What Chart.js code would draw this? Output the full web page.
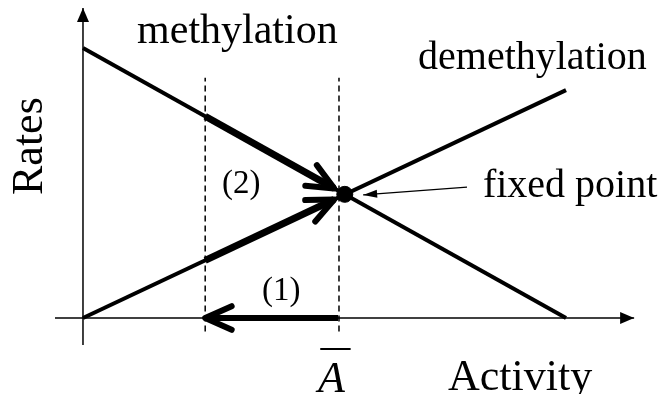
<!DOCTYPE html>
<html>
<head>
<meta charset="utf-8">
<script src="https://cdn.jsdelivr.net/npm/chart.js@4.4.1/dist/chart.umd.min.js"></script>
<style>
  html, body { margin: 0; padding: 0; background: #fff; overflow: hidden; }
</style>
</head>
<body>
<canvas id="tasas" width="659" height="394"></canvas>
<script>
// activity runs 0..1 along the x axis, rates 0..1 up the y axis
const metilacion = [{x: 0, y: 1}, {x: 1, y: 0}];
const desmetilacion = [{x: 0, y: 0}, {x: 1, y: 0.844}];
const puntoFijo = [{x: 0.542, y: 0.458}];
const tramoMetil = [{x: 0.253, y: 0.747}, {x: 0.52, y: 0.48}];
const tramoDesmetil = [{x: 0.253, y: 0.2135}, {x: 0.52, y: 0.439}];
const flechaUno = [{x: 0.528, y: 0}, {x: 0.253, y: 0}];
const guiaIzq = [{x: 0.253, y: -0.05}, {x: 0.253, y: 0.89}];
const guiaDer = [{x: 0.53, y: -0.05}, {x: 0.53, y: 0.89}];
const ejeX = [{x: -0.058, y: 0}, {x: 1.141, y: 0}];
const ejeY = [{x: 0, y: -0.1}, {x: 0, y: 1.148}];
const senal = [{x: 0.795, y: 0.485}, {x: 0.58, y: 0.456}];

const textos = ['methylation', 'demethylation', '(2)', '(1)', 'fixed point', 'Activity', 'A', 'Rates'];
const anclas = [
  {x: 0.112, y: 1.0185}, {x: 0.6936, y: 0.922}, {x: 0.2878, y: 0.463}, {x: 0.3706, y: 0.0667},
  {x: 0.828, y: 0.448}, {x: 0.7557, y: -0.2667}, {x: 0.4865, y: -0.274}, {x: -0.0849, y: 0.4556}
];

function linea(data, ancho, extra) {
  return Object.assign({
    data: data, showLine: true, pointRadius: 0, borderColor: '#000',
    borderWidth: ancho, fill: false, tension: 0, borderCapStyle: 'butt'
  }, extra || {});
}

function puntaAbierta(ctx, p0, p1, largo, ang, ancho) {
  const a = Math.atan2(p1.y - p0.y, p1.x - p0.x);
  ctx.beginPath();
  ctx.moveTo(p1.x - largo * Math.cos(a - ang), p1.y - largo * Math.sin(a - ang));
  ctx.lineTo(p1.x, p1.y);
  ctx.lineTo(p1.x - largo * Math.cos(a + ang), p1.y - largo * Math.sin(a + ang));
  ctx.lineWidth = ancho;
  ctx.lineCap = 'round';
  ctx.lineJoin = 'round';
  ctx.strokeStyle = '#000';
  ctx.stroke();
}

function puntaLlena(ctx, p0, p1, largo, medio) {
  const a = Math.atan2(p1.y - p0.y, p1.x - p0.x);
  const bx = p1.x - largo * Math.cos(a), by = p1.y - largo * Math.sin(a);
  ctx.beginPath();
  ctx.moveTo(p1.x, p1.y);
  ctx.lineTo(bx + medio * Math.sin(a), by - medio * Math.cos(a));
  ctx.lineTo(bx - medio * Math.sin(a), by + medio * Math.cos(a));
  ctx.closePath();
  ctx.fillStyle = '#000';
  ctx.fill();
}

const extremos = (chart, i) => {
  const pts = chart.getDatasetMeta(i).data;
  return [pts[pts.length - 2], pts[pts.length - 1]];
};

const decorado = {
  id: 'decorado',
  afterDatasetsDraw(chart) {
    const ctx = chart.ctx;
    const sx = chart.scales.x, sy = chart.scales.y;
    ctx.save();
    // open arrowheads on the thick segments
    [4, 5, 6].forEach(i => {
      const [a, b] = extremos(chart, i);
      puntaAbierta(ctx, a, b, 29, 0.42, 6);
    });
    // filled arrowheads on axes and pointer
    let [a, b] = extremos(chart, 0);
    puntaLlena(ctx, a, b, 14, 6);
    [a, b] = extremos(chart, 1);
    puntaLlena(ctx, a, b, 14, 6);
    [a, b] = extremos(chart, 9);
    puntaLlena(ctx, a, b, 14, 4);

    ctx.fillStyle = '#000';
    ctx.textBaseline = 'alphabetic';
    ctx.textAlign = 'left';
    const fuentes = ['42px', '40px', '33px', '33px', '40px', '44px', 'italic 44px', '44px'];
    textos.forEach((t, i) => {
      const px = sx.getPixelForValue(anclas[i].x);
      const py = sy.getPixelForValue(anclas[i].y);
      ctx.font = fuentes[i] + ' "Liberation Serif", "Times New Roman", serif';
      if (t === 'Rates') {
        ctx.save();
        ctx.translate(px, py);
        ctx.rotate(-Math.PI / 2);
        ctx.fillText(t, 0, 0);
        ctx.restore();
      } else {
        ctx.fillText(t, px, py);
      }
      if (t === 'A') {
        const w = ctx.measureText(t).width;
        ctx.beginPath();
        ctx.moveTo(px + 3, py - 43);
        ctx.lineTo(px + w + 5, py - 43);
        ctx.lineWidth = 2;
        ctx.strokeStyle = '#000';
        ctx.stroke();
      }
    });
    ctx.restore();
  }
};

new Chart(document.getElementById('tasas'), {
  type: 'scatter',
  data: {
    datasets: [
      linea(ejeX, 1.5),
      linea(ejeY, 1.5),
      linea(metilacion, 4),
      linea(desmetilacion, 4),
      linea(tramoMetil, 7),
      linea(tramoDesmetil, 7),
      linea(flechaUno, 6),
      linea(guiaIzq, 1.5, {borderDash: [6, 4]}),
      linea(guiaDer, 1.5, {borderDash: [6, 4]}),
      linea(senal, 1.2),
      {data: puntoFijo, pointRadius: 8, pointBackgroundColor: '#000', pointBorderColor: '#000', showLine: false}
    ]
  },
  options: {
    animation: false,
    responsive: false,
    devicePixelRatio: 1,
    events: [],
    layout: {padding: 0, autoPadding: false},
    plugins: {
      legend: {display: false},
      tooltip: {enabled: false}
    },
    scales: {
      x: {type: 'linear', min: -0.1718, max: 1.1925, display: false},
      y: {type: 'linear', min: -0.2815, max: 1.1778, display: false}
    }
  },
  plugins: [decorado]
});
</script>
</body>
</html>
